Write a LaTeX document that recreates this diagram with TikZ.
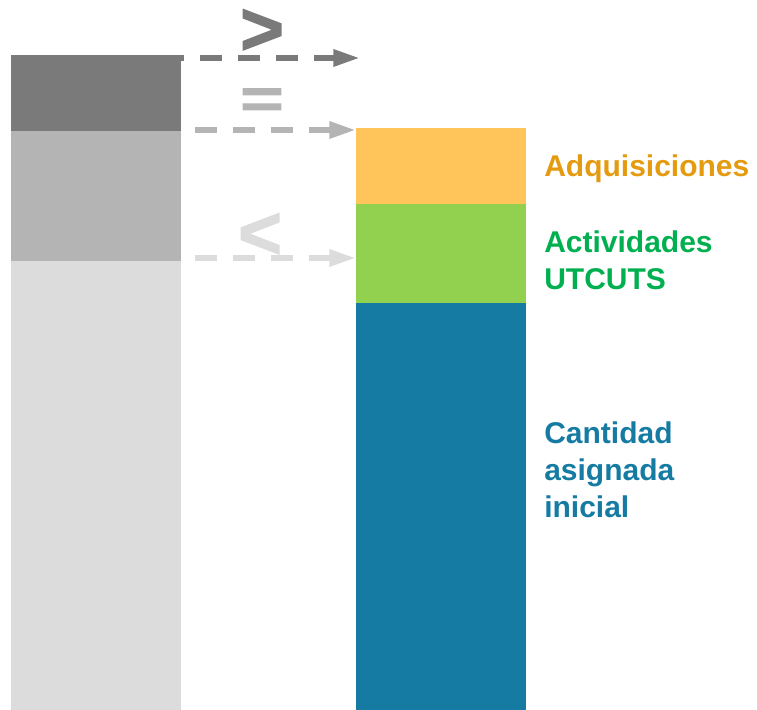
\documentclass[tikz,border=0pt]{standalone}
\usepackage{fontspec}
\setmainfont{Liberation Sans}
\newfontfamily\symfont[FakeBold=2]{Liberation Sans Bold}
\usetikzlibrary{positioning,arrows.meta}

\definecolor{dkgray}{HTML}{7A7A7A}
\definecolor{midgray}{HTML}{B4B4B4}
\definecolor{ltgray}{HTML}{DCDCDC}
\definecolor{adqfill}{HTML}{FFC55A}
\definecolor{utcfill}{HTML}{92D050}
\definecolor{inifill}{HTML}{167BA3}
\definecolor{adqtext}{HTML}{E49B0F}
\definecolor{utctext}{HTML}{00B050}

\begin{document}
\begin{tikzpicture}[x=1pt,y=1pt,
	seg/.style={rectangle, inner sep=0pt, outer sep=0pt, minimum width=127.5pt},
	flow/.style={line width=4.5pt, dash pattern=on 16.5pt off 12pt, -{Triangle[length=20pt,width=12pt]}},
	lbl/.style={anchor=base west, inner sep=0pt, font=\bfseries\fontsize{22.5}{28}\selectfont, align=left},
	sym/.style={inner sep=0pt, font=\symfont\fontsize{56}{56}\selectfont}
		]
\useasboundingbox (0,0) rectangle (567.75,532.5);

% left bar
\node[seg, fill=dkgray, minimum height=57pt, anchor=north west] (dark) at (8.25,491.25) {};
\node[seg, fill=midgray, minimum height=97.5pt, below=0pt of dark] (mid) {};
\node[seg, fill=ltgray, minimum height=336.75pt, below=0pt of mid] (light) {};

% right bar
\node[seg, fill=adqfill, minimum height=57pt, anchor=north west] (adq) at (267,436.5) {};
\node[seg, fill=utcfill, minimum height=74.25pt, below=0pt of adq] (utc) {};
\node[seg, fill=inifill, minimum height=305.25pt, below=0pt of utc] (ini) {};

% arrows
\coordinate (gtstart) at (121.5,489);
\coordinate (gtend) at (270,489);
\coordinate (eqstart) at (146.25,435);
\coordinate (ltstart) at (146.25,339);
\draw[flow, dkgray] (gtstart) -- (gtend);
\draw[flow, midgray] (eqstart) -- (eqstart -| adq.west);
\draw[flow, ltgray] (ltstart) -- (ltstart -| utc.west);

\node[sym, text=dkgray] (gt) at (196.5,508.5) {>};
\node[sym, text=midgray, yscale=0.75] (eq) at (196.5,455) {=};
\node[sym, text=ltgray] (lt) at (195,355.5) {<};

% labels
\node[lbl, text=adqtext] (adqlbl) at (408,399.75) {Adquisiciones};
\node[lbl, text=utctext] (utclbl) at (408,315) {Actividades\\UTCUTS};
\node[lbl, text=inifill] (inilbl) at (408,144) {Cantidad\\asignada\\inicial};
\end{tikzpicture}
\end{document}
